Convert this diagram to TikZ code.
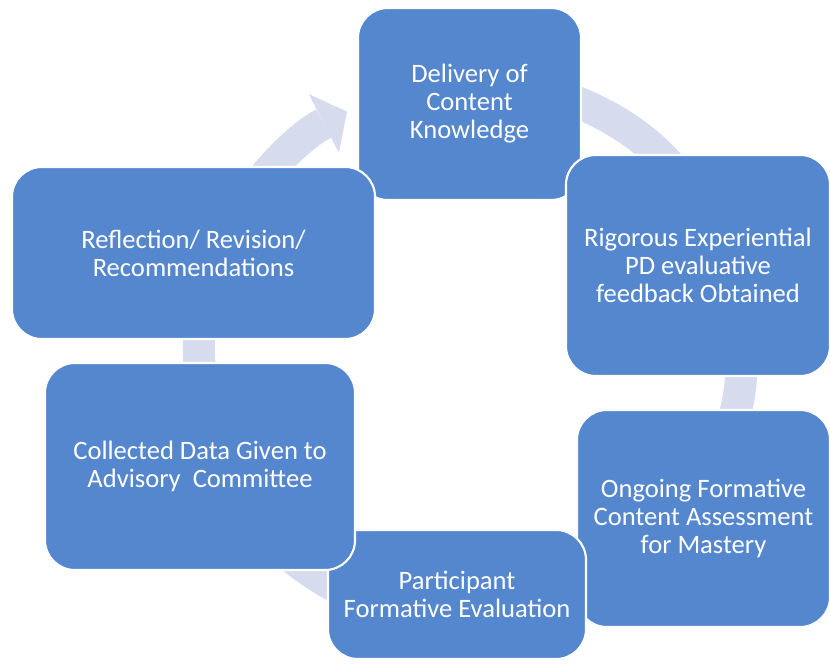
\documentclass[tikz,border=0pt]{standalone}
\usepackage{fontspec}
\setmainfont{Carlito}
\usetikzlibrary{arrows.meta,backgrounds}

\definecolor{stageblue}{RGB}{84,135,206}
\definecolor{ringgray}{RGB}{214,219,238}

\begin{document}
\begin{tikzpicture}[x=0.025cm, y=-0.025cm,
  stage/.style={rectangle, draw=white, line width=1.5pt, rounded corners=0.75cm,
                fill=stageblue, text=white, align=center,
                inner sep=0pt, outer sep=0pt,
                font=\fontsize{18.9}{19.9}\selectfont},
  ring/.style={draw=ringgray, line width=0.8cm,
               -{Triangle[width=1.65cm, length=0.65cm, line width=0pt]}}
]
  \useasboundingbox (0,0) rectangle (830,664);
  \coordinate (hub) at (470,352);

  % Nodes
  \node[stage, minimum width=5.575cm, minimum height=4.8cm] (deliv) at (469.5,104)
       {Delivery of\\Content\\Knowledge};
  \node[stage, minimum width=6.6cm, minimum height=5.525cm] (rigor) at (698,265.5)
       {Rigorous Experiential\\PD evaluative\\feedback Obtained};
  \node[stage, minimum width=6.325cm, minimum height=5.425cm] (ongoing) at (703.5,518.5)
       {Ongoing Formative\\Content Assessment\\for Mastery};
  \node[stage, minimum width=6.45cm, minimum height=3.225cm] (partic) at (457,594.5)
       {Participant\\Formative Evaluation};
  \node[stage, minimum width=7.75cm, minimum height=5.175cm] (collect) at (200,466.5)
       {Collected Data Given to\\Advisory\ \ Committee};
  \node[stage, minimum width=9.075cm, minimum height=4.3cm] (reflect) at (193.5,253)
       {Reflection/ Revision/\\Recommendations};

  % Arrows (ring segments round the hub, behind the nodes)
  \begin{scope}[on background layer]
    \draw[ring] (hub) ++(260:270) arc[start angle=260, end angle=330, radius=270];
    \draw[ring] (hub) ++(335:270) arc[start angle=335, end angle=382, radius=270];
    \draw[ring] (hub) ++(50:270)  arc[start angle=50,  end angle=100, radius=270];
    \draw[ring] (hub) ++(105:270) arc[start angle=105, end angle=150, radius=270];
    \draw[ring] (hub) ++(160:270) arc[start angle=160, end angle=202, radius=270];
    \draw[ring] (hub) ++(210:270) arc[start angle=210, end angle=242.9, radius=270];
  \end{scope}
\end{tikzpicture}
\end{document}
